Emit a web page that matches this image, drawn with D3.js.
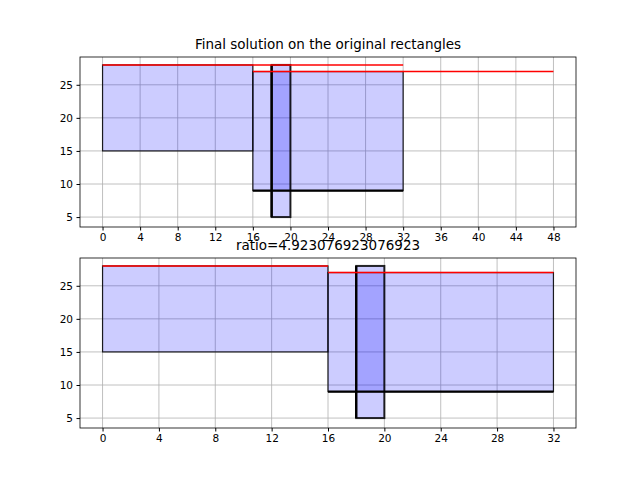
<!DOCTYPE html><html><head><script src="https://cdn.jsdelivr.net/npm/d3@7"></script>
<style>body{margin:0}text{font-family:"DejaVu Sans";}</style></head><body><svg width="640" height="480"></svg>
<script>
const rects=[{x0:0,x1:16,y0:15,y1:28,w:1.2},{x0:16,x1:32,y0:9,y1:27,w:1.2},{x0:18,x1:20,y0:5,y1:28,w:2}];
const topLines=[{x0:0,x1:32,y:28},{x0:16,x1:48,y:27}];
const botLines=[{x0:0,x1:16,y:28},{x0:16,x1:32,y:27}];
const topTicks=[0,4,8,12,16,20,24,28,32,36,40,44,48];
const botTicks=[0,4,8,12,16,20,24,28,32];
const yTicks=[5,10,15,20,25];
const svg=d3.select("svg");
function panel(top,xdom,xt,lines){
  const x=d3.scaleLinear().domain(xdom).range([80,576]);
  const y=d3.scaleLinear().domain([3.5,29.2]).range([top+170,top]);
  const g=svg.append("g");
  g.selectAll(".gx").data(xt).join("line").attr("x1",d=>x(d)).attr("x2",d=>x(d)).attr("y1",top).attr("y2",top+170).attr("stroke","#b0b0b0").attr("stroke-width",0.8);
  g.selectAll(".gy").data(yTicks).join("line").attr("y1",d=>y(d)).attr("y2",d=>y(d)).attr("x1",80).attr("x2",576).attr("stroke","#b0b0b0").attr("stroke-width",0.8);
  g.selectAll(".r").data(rects).join("rect").attr("x",d=>x(d.x0)).attr("y",d=>y(d.y1)).attr("width",d=>x(d.x1)-x(d.x0)).attr("height",d=>y(d.y0)-y(d.y1))
   .attr("fill","blue").attr("fill-opacity",0.2).attr("stroke","#000").attr("stroke-opacity",0.85).attr("stroke-width",d=>d.w);
  g.append("line").attr("x1",x(16)).attr("x2",x(32)).attr("y1",y(9)).attr("y2",y(9)).attr("stroke","#000").attr("stroke-width",2.2);
  g.append("line").attr("x1",x(18)).attr("x2",x(18)).attr("y1",y(5)).attr("y2",y(28)).attr("stroke","#000").attr("stroke-width",2.4);
  g.selectAll(".l").data(lines).join("line").attr("x1",d=>x(d.x0)).attr("x2",d=>x(d.x1)).attr("y1",d=>y(d.y)).attr("y2",d=>y(d.y)).attr("stroke","red").attr("stroke-width",1.5);
  g.append("rect").attr("x",80).attr("y",top).attr("width",496).attr("height",170).attr("fill","none").attr("stroke","#000").attr("stroke-width",0.8);
  g.append("g").attr("transform",`translate(0,${top+170})`).call(d3.axisBottom(x).tickValues(xt).tickSize(3.5).tickPadding(3.5)).call(a=>{a.select(".domain").remove();a.selectAll("text").attr("font-size",10.5).attr("font-family","DejaVu Sans").attr("fill","#000");});
  g.append("g").attr("transform","translate(80,0)").call(d3.axisLeft(y).tickValues(yTicks).tickSize(3.5).tickPadding(3.5)).call(a=>{a.select(".domain").remove();a.selectAll("text").attr("font-size",10.5).attr("font-family","DejaVu Sans").attr("fill","#000");});
}
panel(57,[-2.4,50.4],topTicks,topLines);
panel(258,[-1.6,33.6],botTicks,botLines);
svg.append("text").attr("x",328).attr("y",49).attr("text-anchor","middle").attr("font-size",13.5).text("Final solution on the original rectangles");
svg.append("text").attr("x",328).attr("y",250).attr("text-anchor","middle").attr("font-size",13.5).text("ratio=4.923076923076923");
</script></body></html>
